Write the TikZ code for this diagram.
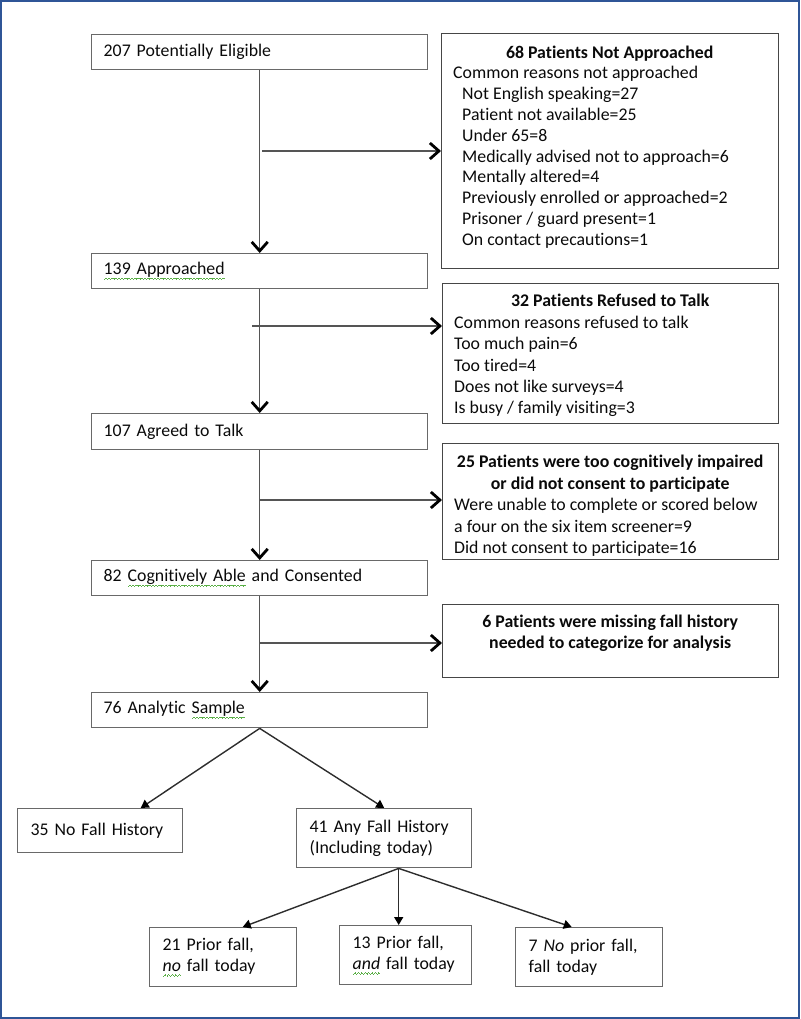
\documentclass[tikz,border=0pt]{standalone}
\usepackage{fontspec}
\setmainfont{Carlito}[Ligatures=NoCommon]
\usetikzlibrary{arrows.meta}
\definecolor{framecol}{RGB}{47,85,151}
\definecolor{boxline}{RGB}{105,105,105}
\definecolor{rline}{RGB}{70,70,70}
\definecolor{arrline}{RGB}{85,85,85}
\definecolor{arrlineb}{RGB}{45,45,45}
\definecolor{txt}{RGB}{10,10,10}
\definecolor{squig}{RGB}{90,175,70}
\newcommand\fs{\fontsize{17.8}{21.3}\selectfont}
\newsavebox\gwbox
\newcommand\wvunit{\hbox{\rule[-4.9pt]{0.8pt}{0.9pt}\rule[-4.3pt]{0.8pt}{0.9pt}\rule[-3.7pt]{0.8pt}{0.9pt}\rule[-4.3pt]{0.8pt}{0.9pt}}}
\newcommand\gw[1]{\leavevmode\sbox\gwbox{#1}%
  \rlap{\hbox to\wd\gwbox{\color{squig}\xleaders\wvunit\hfill}}\usebox\gwbox}
\begin{document}
\begin{tikzpicture}[x=1pt,y=-1pt,
  mainbox/.style={draw=boxline,line width=1.4pt,anchor=north west,inner xsep=12pt,inner ysep=0pt,text width=312pt,align=left,minimum height=35pt,font=\fs,text=txt},
  sbox/.style={draw=boxline,line width=1.4pt,anchor=north west,inner xsep=13pt,inner ysep=0pt,align=left,font=\fs,text=txt},
  rbox/.style={draw=rline,line width=1.4pt,anchor=north west,inner sep=0pt},
  rtext/.style={anchor=north west,inner sep=0pt,font=\fs,text=txt},
  flow/.style={draw=arrline,line width=1.5pt,-{Straight Barb[length=9pt,width=16pt,line width=2.8pt,color=black]}},
  fall/.style={draw=arrlineb,line width=1.4pt,-{Triangle[length=8pt,width=9pt,color=black]}}]
\useasboundingbox (0,0) rectangle (800,1019);
\draw[framecol,line width=2pt] (1,1) rectangle (799,1017.5);

% main column
\node[mainbox] (A) at (91,34) {207 Potentially Eligible};
\node[mainbox] (B) at (91,253) {\gw{139 Approached}};
\node[mainbox,minimum height=36pt] (C) at (91,413) {107 Agreed to Talk};
\node[mainbox] (D) at (91,560) {82 \gw{Cognitively Able} and Consented};
\node[mainbox] (E) at (91,692) {76 Analytic \gw{Sample}};

% right boxes
\node[rbox,minimum width=337pt,minimum height=235pt] (R1) at (441,33) {};
\begin{scope}
\clip (R1.north west) rectangle ([yshift=6pt]R1.south east);
\node[rtext] (R1t) at (R1.north west) {\parbox[t]{337pt}{\fs\baselineskip=20.8pt\vspace*{10pt}%
{\centering\bfseries\strut 68 Patients Not Approached\par}%
{\leftskip=12pt Common reasons not approached\par}%
{\leftskip=21pt Not English speaking=27\\Patient not available=25\\Under 65=8\\Medically advised not to approach=6\\Mentally altered=4\\Previously enrolled or approached=2\\Prisoner / guard present=1\\On contact precautions=1\par}}};
\end{scope}

\node[rbox,minimum width=336pt,minimum height=140pt] (R2) at (442,283) {};
\begin{scope}
\clip (R2.north west) rectangle ([yshift=6pt]R2.south east);
\node[rtext] (R2t) at (R2.north west) {\parbox[t]{336pt}{\fs\baselineskip=21.4pt\vspace*{8.8pt}%
{\centering\bfseries\strut 32 Patients Refused to Talk\par}%
{\leftskip=12pt Common reasons refused to talk\\Too much pain=6\\Too tired=4\\Does not like surveys=4\\Is busy / family visiting=3\par}}};
\end{scope}

\node[rbox,minimum width=336pt,minimum height=116pt] (R3) at (442,443) {};
\begin{scope}
\clip (R3.north west) rectangle ([yshift=5pt]R3.south east);
\node[rtext] (R3t) at (R3.north west) {\parbox[t]{336pt}{\fs\baselineskip=21.5pt\vspace*{9.8pt}%
{\centering\bfseries\strut 25 Patients were too cognitively impaired\\or did not consent to participate\par}%
{\leftskip=12pt Were unable to complete or scored below\\a four on the six item screener=9\\Did not consent to participate=16\par}}};
\end{scope}

\node[rbox,minimum width=336pt,minimum height=73pt] (R4) at (442,604) {};
\node[rtext] (R4t) at (R4.north west) {\parbox[t]{336pt}{\fs\baselineskip=21pt\vspace*{8.8pt}%
{\centering\bfseries\strut 6 Patients were missing fall history\\needed to categorize for analysis\par}}};

% bottom boxes
\node[sbox,text width=139pt,minimum height=44pt] (F) at (17,808) {35 No Fall History};
\node[sbox,text width=149pt,minimum height=59pt] (G) at (296,808) {41 Any Fall History\\(Including today)};
\node[sbox,text width=121pt,minimum height=59pt] (H) at (149,927) {21 Prior fall,\\\gw{\textit{no}} fall today};
\node[sbox,text width=106pt,minimum height=59pt] (I) at (339,925) {13 Prior fall,\\\gw{\textit{and}} fall today};
\node[sbox,text width=121pt,minimum height=59pt] (J) at (515,927) {7 \textit{No} prior fall,\\fall today};

% main flow
\draw[flow] (A) -- (B);
\draw[flow] (B) -- (C);
\draw[flow] (C) -- (D);
\draw[flow] (D) -- (E);

% branches
\coordinate (b1) at (262,151);
\coordinate (b2) at (252,326);
\coordinate (b3) at (259,500);
\coordinate (b4) at (259,643);
\draw[flow] (b1) -- (b1 -| R1.west);
\draw[flow] (b2) -- (b2 -| R2.west);
\draw[flow] (b3) -- (b3 -| R3.west);
\draw[flow] (b4) -- (b4 -| R4.west);

% split
\draw[fall] (E.south) -- ([xshift=40.5pt]F.north);
\draw[fall] (E.south) -- (G.north);
\coordinate (gs) at ([xshift=14.5pt]G.south);
\draw[fall] (gs) -- ([xshift=19.5pt]H.north);
\draw[fall] (gs) -- (gs |- I.north);
\draw[fall] (gs) -- ([xshift=-17.5pt]J.north);
\end{tikzpicture}
\end{document}
